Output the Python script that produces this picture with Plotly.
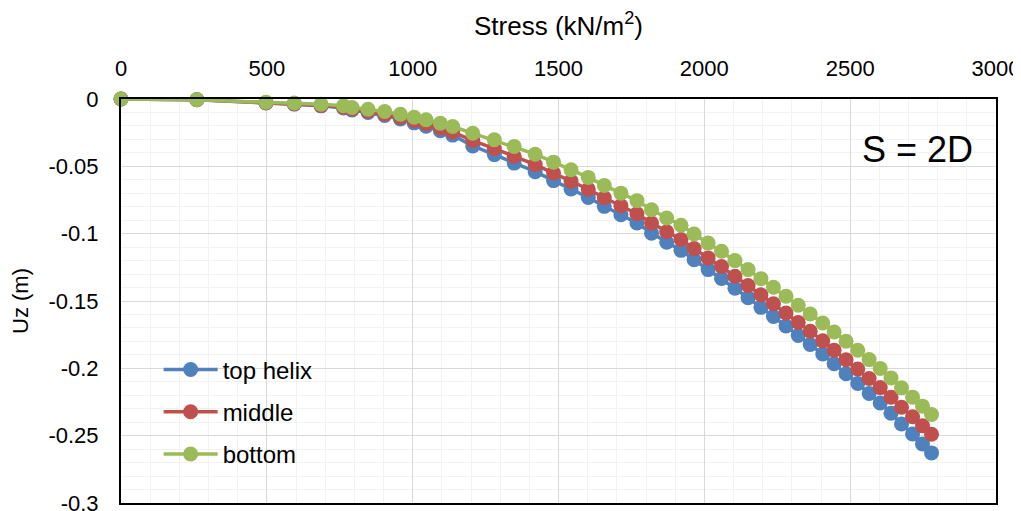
import plotly.graph_objects as go

stress = [0, 260, 497, 594, 686, 763, 792, 847, 904, 958, 1005, 1046, 1095, 1137, 1206,
          1280, 1348, 1420, 1483, 1543, 1602, 1657, 1714, 1769, 1819, 1871, 1920, 1965,
          2013, 2059, 2105, 2150, 2194, 2237, 2280, 2322, 2363, 2406, 2445, 2486, 2526,
          2565, 2603, 2640, 2676, 2714, 2748, 2779]

top_helix = [0, -0.0006, -0.0029, -0.0038, -0.0051, -0.0066, -0.0082, -0.01, -0.0123, -0.0149,
             -0.0177, -0.0202, -0.0236, -0.0268, -0.0349, -0.0413, -0.0476, -0.054, -0.0606,
             -0.0668, -0.0731, -0.0797, -0.0859, -0.0921, -0.0996, -0.1064, -0.1124, -0.1194,
             -0.1267, -0.1332, -0.1405, -0.1476, -0.1547, -0.1615, -0.1686, -0.1756, -0.1823,
             -0.1894, -0.1966, -0.204, -0.2112, -0.2186, -0.2257, -0.2333, -0.2413, -0.2488,
             -0.2561, -0.2628]

middle = [0, -0.0006, -0.0027, -0.0035, -0.0047, -0.006, -0.0075, -0.0091, -0.0112, -0.0135,
          -0.0161, -0.0184, -0.0215, -0.0244, -0.0309, -0.0368, -0.0425, -0.0487, -0.055,
          -0.061, -0.067, -0.0733, -0.0793, -0.0852, -0.0921, -0.0986, -0.1043, -0.1111,
          -0.118, -0.1244, -0.1316, -0.1385, -0.1454, -0.152, -0.1589, -0.1659, -0.1725,
          -0.1796, -0.1865, -0.1936, -0.2005, -0.2076, -0.2143, -0.2214, -0.2289, -0.2359,
          -0.2427, -0.249]

bottom = [0, -0.0006, -0.0024, -0.003, -0.0039, -0.005, -0.0063, -0.0076, -0.0093, -0.0113,
          -0.0135, -0.0154, -0.018, -0.0204, -0.0254, -0.0303, -0.0352, -0.041, -0.0469,
          -0.0525, -0.0582, -0.0642, -0.0699, -0.0755, -0.0822, -0.0884, -0.0938, -0.1003,
          -0.107, -0.1131, -0.12, -0.1267, -0.1334, -0.1398, -0.1465, -0.1532, -0.1596,
          -0.1663, -0.173, -0.1799, -0.1866, -0.1935, -0.2001, -0.2071, -0.2145, -0.2214,
          -0.2281, -0.2343]

series_names = ["top helix", "middle", "bottom"]
series_colors = ["#4F81BD", "#C0504D", "#9BBB59"]

x_ticks = [0, 500, 1000, 1500, 2000, 2500, 3000]
y_ticks = [0, -0.05, -0.1, -0.15, -0.2, -0.25, -0.3]
y_ticktext = ["0", "-0.05", "-0.1", "-0.15", "-0.2", "-0.25", "-0.3"]

FONT = "Liberation Sans, Arial, sans-serif"

fig = go.Figure()
for i, (name, ys, col) in enumerate(zip(series_names, [top_helix, middle, bottom], series_colors)):
    fig.add_trace(go.Scatter(
        x=stress, y=ys, name=name, mode="lines+markers",
        line=dict(color=col, width=3.5),
        marker=dict(color=col, size=15),
        cliponaxis=False,
        legendgroup=f"g{i}",
    ))

fig.add_annotation(text="S = 2D", xref="paper", yref="paper", x=0.91, y=0.875,
                   xanchor="center", yanchor="middle",
                   showarrow=False, font=dict(size=36, color="black", family=FONT))

fig.update_layout(
    width=1021, height=511,
    margin=dict(l=113, r=33, t=90.5, b=16, autoexpand=False),
    paper_bgcolor="white", plot_bgcolor="white",
    font=dict(family=FONT, size=22, color="black"),
    showlegend=True,
    legend=dict(x=0.043, y=0.385, xanchor="left", yanchor="top",
                bgcolor="rgba(0,0,0,0)", font=dict(size=24),
                tracegroupgap=8, itemwidth=54),
    xaxis=dict(
        side="top", range=[0, 3000], tickvals=x_ticks, automargin=False,
        showline=True, linecolor="black", linewidth=2, mirror=True,
        showgrid=True, gridcolor="#D9D9D9", gridwidth=1,
        minor=dict(dtick=100, showgrid=True, gridcolor="#F2F2F2", gridwidth=1),
        zeroline=False, ticks="", ticklabelstandoff=12,
        title=dict(text="Stress (kN/m<sup>2</sup>)", font=dict(size=26), standoff=14),
        tickfont=dict(size=22),
    ),
    yaxis=dict(
        range=[-0.3, 0], tickvals=y_ticks, ticktext=y_ticktext, automargin=False,
        showline=True, linecolor="black", linewidth=2, mirror=True,
        showgrid=True, gridcolor="#D9D9D9", gridwidth=1,
        minor=dict(dtick=0.01, showgrid=True, gridcolor="#F2F2F2", gridwidth=1),
        zeroline=False, ticks="", ticklabelstandoff=16,
        title=dict(text="Uz (m)", font=dict(size=22), standoff=18),
        tickfont=dict(size=22),
    ),
)

fig.write_html("out.html")
